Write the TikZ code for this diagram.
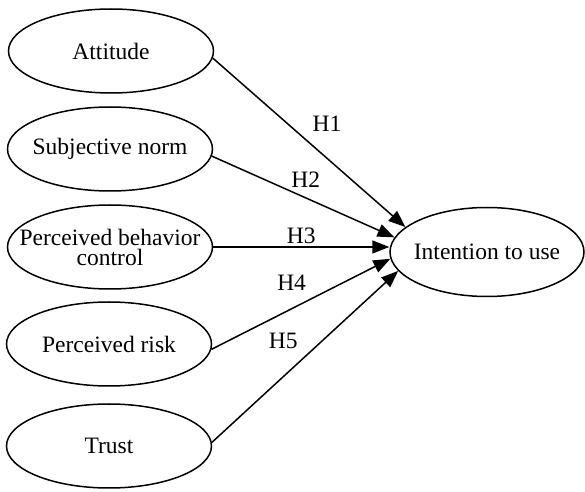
\documentclass[tikz,border=0pt]{standalone}
\usepackage{fontspec}
\setmainfont{Liberation Serif}
\usetikzlibrary{shapes.geometric,arrows.meta}
\begin{document}
\begin{tikzpicture}[x=0.5pt, y=-0.5pt, -{Triangle[length=8.5pt,width=6.5pt]}, auto, line width=0.75pt,
        font=\fontsize{11.75}{10}\selectfont,
        main/.style = {draw, ellipse, minimum width=102.5pt, minimum height=42pt, inner xsep=-10pt, inner ysep=0pt, align=center},
        goal/.style = {main, minimum width=97pt, minimum height=44.5pt}]
            \useasboundingbox (0,0) rectangle (585,492);

            \node[main] (1) at (111,51) {Attitude};
            \node[main] (2) at (110,149) {Subjective norm};
            \node[main] (3) at (110,247) {Perceived behavior\\control};
            \node[main] (4) at (109,344) {Perceived risk};
            \node[main] (5) at (109,446) {Trust};
            \node[goal] (6) at (487,252) {Intention to use};

            \path (1.-4) edge node[pos=0.48] {H1} (6.163);
            \path (2.-4) edge node[pos=0.42, inner sep=1pt] {H2} (6.171);
            \path (3.east) edge node[pos=0.5, inner sep=1.5pt] {H3} (3.east -| 6.west);
            \path (4.-3) edge node[pos=0.57] {H4} (6.184);
            \path (5.2) edge node[pos=0.5] {H5} (6.192);

        \end{tikzpicture}
\end{document}
